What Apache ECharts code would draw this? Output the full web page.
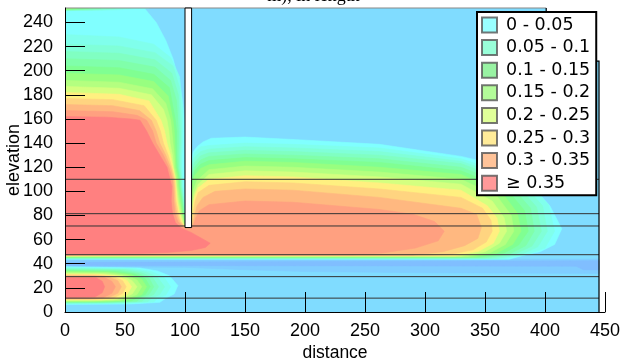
<!DOCTYPE html>
<html>
<head>
<meta charset="utf-8">
<script src="https://cdn.jsdelivr.net/npm/echarts@6/dist/echarts.min.js"></script>
<style>html,body{margin:0;padding:0;background:#fff}#chart{width:627px;height:364px}</style>
</head>
<body>
<div id="chart"></div>
<script>
// ---------- data (distance, elevation) ----------
const titleText = 'm), in length';
const xTickValues = [0, 50, 100, 150, 200, 250, 300, 350, 400, 450];
const yTickValues = [0, 20, 40, 60, 80, 100, 120, 140, 160, 180, 200, 220, 240];
const legendLabels = ['0 - 0.05', '0.05 - 0.1', '0.1 - 0.15', '0.15 - 0.2', '0.2 - 0.25', '0.25 - 0.3', '0.3 - 0.35', '\u2265 0.35'];

// model domain outline (distance, elevation)
const domainShape = [[0, 0], [445, 0], [445, 208], [401, 208], [401, 252], [0, 252]];
const domainTopEdge = [[0, 252], [401, 252]];
const domainRightEdge = [[401, 252], [401, 208], [445, 208], [445, 0]];
// layer boundary elevations
const layerElevations = [110, 81.5, 71.3, 47.5, 29.3, 11.5];
const layerEnd = 445;
// sheet pile
const pileX = [100, 105.5];
const pileY = [70, 252];

// slightly negative zones (two blue shades)
const blueBands = [
  [[0, 43.7], [445, 43.7], [445, 32], [300, 32.5], [200, 33.5], [150, 35], [100, 37], [0, 37.5]],
  [[0, 41.2], [445, 42.5], [445, 35], [432, 35], [426, 38], [0, 38.6]]
];

// upper field: region >= level k (k = 1..14), painted in ascending order
const upperContours = [
  [[0,43.7],[0,252],[66,252],[76,240],[84,225],[90,210],[94,195],[97,180],[98.5,170],[99.5,159],[99.5,150],[99.3,120],[99.5,104],[99.8,90],[100,69.5],[105.5,69.5],[105.6,128],[107,133],[110,137],[115,141],[122,144],[150,145],[190,143],[262,139],[330,129],[362,121.6],[387,107],[404,88],[414,69],[408,56],[396,50],[380,46.5],[370,43.7]],
  [[0,44.1],[0,230],[45,228],[74,222],[88,211],[95.5,195],[98,170],[98,159],[98,150],[98,140],[97.5,130],[97.5,120],[98,110],[98.3,104],[99.3,92],[99.8,82],[100,69.5],[105.5,69.5],[105.6,124],[108,132],[113,137],[120,138],[150,140],[190,139],[262,136],[330,127],[383,110],[403,89],[408,67],[400,53],[386,48],[365,44.1]],
  [[0,44.4],[0,222],[45,220.5],[75,215],[90,204],[95.5,186],[97,159],[97,150],[97,140],[96.5,130],[96.5,120],[97.3,110],[97.5,104],[99,92],[99.7,82],[100,69.5],[105.5,69.5],[105.6,120],[108,128],[113,133],[120,135],[150,137],[190,136],[262,133],[330,125],[380,108],[398,88],[402,67],[394,54],[381,48],[360,44.4]],
  [[0,44.7],[0,216],[45,214.5],[75,209],[89,198],[94.5,180],[95.5,159],[96,150],[96,140],[95.5,130],[95.5,120],[96.8,110],[97,104],[98.5,92],[99.5,82],[99.8,75],[100,69.5],[105.5,69.5],[105.6,116],[108,124],[113,129.5],[120,132],[150,134],[190,133],[262,130],[330,123],[376,106],[393,87],[397,67],[389,54.5],[376,48.5],[355,44.7]],
  [[0,45],[0,210],[45,208.5],[75,203],[88,192],[93,175],[94,159],[94.5,150],[94.5,140],[94.3,130],[94.5,120],[96,110],[96.3,104],[98,92],[99.2,82],[99.7,75],[100,69.5],[105.5,69.5],[105.6,112],[108,120],[113,126],[120,129],[150,131],[190,130],[262,127],[330,120],[372,104],[388,86],[391,67],[384,55],[371,48.5],[350,45]],
  [[0,45.3],[0,204],[45,202.5],[74,197],[87,186],[92,159],[93,150],[93,140],[93,130],[93.5,120],[95.5,110],[95.5,104],[97.5,92],[98.7,82],[99.5,75],[100,69.5],[105.5,69.5],[105.6,108],[108,117],[113,122.5],[120,125.5],[150,128],[190,127],[262,124],[330,117],[368,102],[383,84],[386,67],[378,55.5],[366,49],[345,45.3]],
  [[0,45.6],[0,198],[45,196.5],[74,191],[86,179],[90,159],[91,150],[91.5,140],[92,130],[92.5,120],[94.5,110],[95,104],[96.5,92],[98,82],[99.3,75],[100,69.5],[105.5,69.5],[105.6,104],[108,113],[113,119],[120,122],[150,125],[190,124],[262,120],[330,114],[364,99],[377,82],[380,67],[373,56],[360,49],[340,45.6]],
  [[0,45.9],[0,192],[45,190.5],[73,185],[84,173],[88,159],[89,150],[90,140],[91,130],[91.5,120],[93.5,110],[94,104],[95.5,92],[97.3,82],[99,75],[99.8,71],[100,69.5],[105.5,69.5],[105.6,82],[105.8,92],[106.5,100],[110,109],[120,118],[150,121],[190,120],[262,116],[330,110],[360,96],[372,80],[374,67],[367,56],[355,49.5],[335,45.9]],
  [[0,46.2],[0,187],[45,185.5],[72,180],[82,168],[85,159],[86.5,150],[87.5,140],[89.5,130],[90.5,120],[92.5,110],[93,104],[94.5,92],[96.5,82],[98.5,75],[99.7,71],[100,69.5],[105.5,69.5],[105.7,80],[106,90],[107.5,98],[111,106],[120,114],[150,117],[190,116],[262,112],[330,106],[356,92],[366,78],[368,67],[362,57],[350,50],[330,46.2]],
  [[0,46.5],[0,182],[45,180.5],[70,175],[80,159],[83,150],[85,140],[88,130],[90,120],[92,110],[92.5,104],[93.5,92],[95.5,82],[97.5,75],[99.5,71],[100,69.5],[105.5,69.5],[105.8,78],[106.5,88],[108,96],[111,103],[120,110],[150,113],[190,112],[262,107],[330,101],[352,88],[360,78],[362,67],[357,57],[345,50.5],[325,46.5]],
  [[0,46.8],[0,177],[40,176],[66,171],[76,159],[79.5,150],[82,140],[86,130],[89,120],[91.5,110],[91.8,104],[92.5,92],[94.4,82],[96.5,75],[99.3,71],[100,69.5],[105.5,69.5],[106,75],[107,83],[108.5,92],[111,99],[120,105],[150,108],[190,107],[262,102],[330,95],[348,86],[355,76],[356,67],[351,58],[340,51.5],[320,47.5],[300,46.8]],
  [[0,47.1],[0,172],[40,171],[62,167],[72,159],[76,150],[79,140],[84,130],[88,120],[90.5,110],[91,104],[91.5,92],[93,82],[95.5,75],[99,70.5],[100,69.5],[105.5,69.5],[106.5,73],[108,80],[110,88],[115,95],[125,100],[150,102],[190,101],[262,95],[330,86],[343,81],[347,70],[344,61],[333,55],[315,50],[290,47.1]],
  [[0,47.4],[0,167],[40,166],[60,163],[68,159],[73,150],[76,140],[82,130],[86.5,120],[89.5,110],[90,104],[90.5,92],[91.5,82],[94,75],[98,70.5],[100,69.5],[105.5,69.5],[107,72],[109,78],[112,84],[120,89],[150,92],[190,91],[262,85],[290,81],[308,75],[316,67],[311,59],[292,53],[265,49],[240,47.4]],
  [[0,47.6],[0,162],[35,161.5],[55,160],[62.5,159],[68,150],[73,140],[79,130],[85,120],[89,104],[88.5,92],[89.5,82],[92,74],[97,69.5],[105,66],[114,61],[121,57],[117,53.5],[105,51],[85,49.3],[50,48]]
];

// lower-left plume: region >= level k (k = 1..14)
const lowerContours = [
  [[0,37.5],[62,36.5],[77,34],[87,30],[94,22],[91,15],[84,11.5],[79,8],[55,6.7],[0,6.2]],
  [[0,36.8],[58,36],[72,33.5],[82,29.5],[88,21],[84,14],[77,11.3],[74,8.3],[50,7],[0,6.8]],
  [[0,36.2],[54,35.5],[68,33],[77,29],[83,21],[79,14.5],[72,11.5],[69,8.5],[45,7.4],[0,7.2]],
  [[0,35.6],[50,35],[64,32.5],[73,28.5],[78,21],[74,14.5],[67,11.5],[64,8.8],[40,7.8],[0,7.6]],
  [[0,35],[46,34.4],[61,32],[70,28],[74,21],[70,14.5],[63,11.5],[60,9],[35,8],[0,8]],
  [[0,34.4],[42,33.8],[58,31.5],[67,27.5],[71,21],[67,14.5],[60,11.5],[55,9.2],[30,8.4],[0,8.3]],
  [[0,33.7],[38,33.2],[55,31],[64,27],[68,21],[64,14.5],[56,11.5],[50,9.3],[25,8.7],[0,8.7]],
  [[0,33],[35,32.5],[52,30.5],[60,26.5],[64,21],[60,14.5],[52,11.5],[45,9.5],[20,9],[0,9]],
  [[0,32.2],[32,31.8],[48,30],[56,26],[60,21],[56,15],[48,11.5],[40,10],[0,9.5]],
  [[0,31.5],[28,31.2],[44,29.8],[52,26],[55.5,21],[52,15],[44,11.3],[30,10],[0,10]],
  [[0,30.8],[25,30.6],[40,29.5],[48,26],[51,21],[48,15.5],[40,11.5],[25,10.5],[0,10.5]],
  [[0,30],[22,30],[36,29.3],[44,26],[47,21],[44,15.5],[36,11.8],[20,11],[0,11]],
  [[0,29.3],[22,29.3],[33,28.5],[39,25.5],[42,21],[39,15.5],[32,12],[20,11.5],[0,11.5]],
  [[0,28.5],[26,28.3],[31,25.5],[33,21],[31,16],[25,12.5],[0,12]]
];

// thin strip along the top surface: [level, outline]
const topStrip = [
  [2, [[0,252],[70,252],[40,250.3],[0,249.8]]],
  [3, [[0,252],[55,252],[30,250.4],[0,250]]],
  [4, [[0,252],[42,252],[22,250.6],[0,250.2]]],
  [5, [[0,252],[30,252],[14,250.8],[0,250.4]]],
  [6, [[0,252],[20,252],[8,251],[0,250.6]]],
  [7, [[0,252],[10,252],[0,250.8]]]
];

// ---------- styles ----------
const domainColor = '#80DCFF';
const blueColors = ['#80CDFF', '#80BEFF'];
const levelColors = ['#80FFFF','#80FFEC','#80FFD8','#80FFC2','#80FFAA','#80FF92','#98FF80','#B4FF80','#D4FF80','#FFF080','#FFD480','#FFB880','#FFA080','#FF8080'];
const legendColors = ['#80FFFF','#80FFD0','#80F08C','#A0FA80','#D8FF80','#FFE680','#FFB480','#FF8080'];

const shapes = [];
shapes.push({ pts: domainShape, color: domainColor });
blueBands.forEach((pts, i) => shapes.push({ pts, color: blueColors[i] }));
lowerContours.forEach((pts, i) => shapes.push({ pts, color: levelColors[i] }));
upperContours.forEach((pts, i) => shapes.push({ pts, color: levelColors[i] }));
topStrip.forEach(([k, pts]) => shapes.push({ pts, color: levelColors[k - 1] }));

const chart = echarts.init(document.getElementById('chart'), null, { renderer: 'canvas' });

const axisFont = 'Liberation Sans, Arial, sans-serif';

const series = [
  {
    type: 'custom', name: 'field', clip: true, silent: true,
    data: shapes.map(() => [0, 0]),
    renderItem: (params, api) => {
      const s = shapes[params.dataIndex];
      return { type: 'polygon', shape: { points: s.pts.map(p => api.coord(p)) },
               style: { fill: s.color, stroke: s.color, lineWidth: 0.6 } };
    }
  },
  {
    type: 'custom', name: 'layers', clip: true, silent: true,
    data: layerElevations.map(e => [0, e]),
    renderItem: (params, api) => {
      const e = layerElevations[params.dataIndex];
      const a = api.coord([0, e]), b = api.coord([layerEnd, e]);
      return { type: 'line', shape: { x1: a[0], y1: a[1], x2: b[0], y2: b[1] },
               style: { stroke: '#333', lineWidth: 1 } };
    }
  },
  {
    type: 'custom', name: 'outline', clip: false, silent: true,
    data: [[0, 0], [0, 0]],
    renderItem: (params, api) => {
      const pts = params.dataIndex === 0 ? domainTopEdge : domainRightEdge;
      return { type: 'polyline', shape: { points: pts.map(p => api.coord(p)) },
               style: { stroke: params.dataIndex === 0 ? '#888' : '#000', lineWidth: 1.2, fill: null } };
    }
  },
  {
    type: 'custom', name: 'pile', clip: false, silent: true,
    data: [[pileX[0], pileY[0]]],
    renderItem: (params, api) => {
      const a = api.coord([pileX[0], pileY[1]]), b = api.coord([pileX[1], pileY[0]]);
      return { type: 'rect', shape: { x: a[0], y: a[1], width: b[0] - a[0], height: b[1] - a[1] },
               style: { fill: '#fff', stroke: '#000', lineWidth: 1 } };
    }
  }
];
legendLabels.forEach((name, i) => series.push({
  type: 'scatter', name, data: [], symbol: 'rect',
  itemStyle: { color: legendColors[i], borderColor: '#555', borderWidth: 1 }
}));

chart.setOption({
  animation: false,
  backgroundColor: '#fff',
  title: {
    text: titleText, left: 'center', top: -18,
    textStyle: { fontFamily: 'Liberation Serif, Times New Roman, serif', fontSize: 18, fontWeight: 'normal', color: '#000' }
  },
  grid: { left: 65, right: 22, top: 8, bottom: 52, containLabel: false, outerBoundsMode: 'none' },
  xAxis: {
    type: 'value', min: 0, max: 450, interval: 50, z: 10,
    name: 'distance', nameLocation: 'middle', nameGap: 32, nameMoveOverlap: false,
    nameTextStyle: { fontFamily: axisFont, fontSize: 17.5, color: '#000' },
    axisLine: { show: true, lineStyle: { color: '#000', width: 1 } },
    axisTick: { show: true, inside: true, length: 20, lineStyle: { color: '#000', width: 1 } },
    axisLabel: { margin: 10, fontFamily: axisFont, fontSize: 18, color: '#000', customValues: xTickValues },
    splitLine: { show: false }
  },
  yAxis: {
    type: 'value', min: 0, max: 252, z: 10,
    name: 'elevation', nameLocation: 'middle', nameGap: 42, nameRotate: 90, nameMoveOverlap: false,
    nameTextStyle: { fontFamily: axisFont, fontSize: 18, color: '#000' },
    axisLine: { show: true, lineStyle: { color: '#000', width: 1 } },
    axisTick: { show: true, inside: true, length: 20, lineStyle: { color: '#000', width: 1 }, customValues: yTickValues },
    axisLabel: { margin: 12, fontFamily: axisFont, fontSize: 18, color: '#000', customValues: yTickValues },
    splitLine: { show: false }
  },
  legend: {
    orient: 'vertical', left: 477, top: 12, z: 20,
    backgroundColor: '#fff', borderColor: '#000', borderWidth: 2, borderRadius: 0,
    padding: [4, 6, 3, 4], itemWidth: 15, itemHeight: 15, itemGap: 4.6,
    selectedMode: false, icon: 'rect',
    textStyle: { fontFamily: 'DejaVu Sans, sans-serif', fontSize: 17.5, lineHeight: 18, color: '#000', padding: [0, 0, 0, 4] },
    data: legendLabels
  },
  series
});
</script>
</body>
</html>
